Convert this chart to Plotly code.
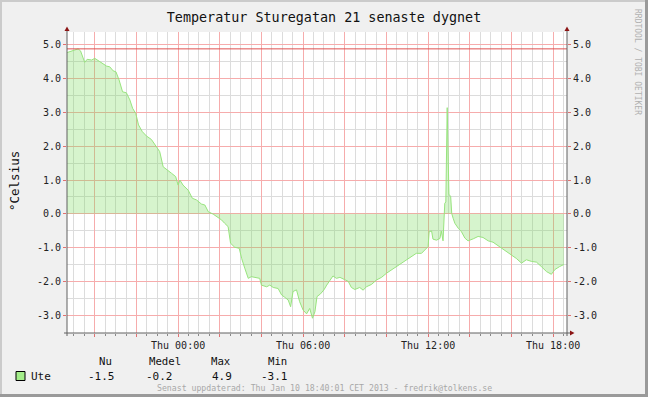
import plotly.graph_objects as go
import pandas as pd

# ---------------- data ----------------
times = [
    "2013-01-09 18:40", "2013-01-09 18:58", "2013-01-09 19:12", "2013-01-09 19:19",
    "2013-01-09 19:31", "2013-01-09 19:38", "2013-01-09 19:51", "2013-01-09 20:00",
    "2013-01-09 20:10", "2013-01-09 20:19", "2013-01-09 20:34", "2013-01-09 20:43",
    "2013-01-09 20:53", "2013-01-09 21:01", "2013-01-09 21:10", "2013-01-09 21:20",
    "2013-01-09 21:31", "2013-01-09 21:41", "2013-01-09 21:49", "2013-01-09 21:58",
    "2013-01-09 22:06", "2013-01-09 22:17", "2013-01-09 22:29", "2013-01-09 22:43",
    "2013-01-09 22:58", "2013-01-09 23:07", "2013-01-09 23:17", "2013-01-09 23:27",
    "2013-01-09 23:41", "2013-01-09 23:53", "2013-01-10 00:00", "2013-01-10 00:05",
    "2013-01-10 00:14", "2013-01-10 00:29", "2013-01-10 00:41", "2013-01-10 00:53",
    "2013-01-10 01:07", "2013-01-10 01:17", "2013-01-10 01:27", "2013-01-10 01:41",
    "2013-01-10 01:55", "2013-01-10 02:05", "2013-01-10 02:14", "2013-01-10 02:24",
    "2013-01-10 02:31", "2013-01-10 02:43", "2013-01-10 02:56", "2013-01-10 03:03",
    "2013-01-10 03:12", "2013-01-10 03:22", "2013-01-10 03:31", "2013-01-10 03:46",
    "2013-01-10 03:55", "2013-01-10 04:00", "2013-01-10 04:15", "2013-01-10 04:24",
    "2013-01-10 04:34", "2013-01-10 04:48", "2013-01-10 04:58", "2013-01-10 05:07",
    "2013-01-10 05:17", "2013-01-10 05:24", "2013-01-10 05:31", "2013-01-10 05:41",
    "2013-01-10 05:50", "2013-01-10 06:00", "2013-01-10 06:10", "2013-01-10 06:19",
    "2013-01-10 06:27", "2013-01-10 06:34", "2013-01-10 06:40", "2013-01-10 06:50",
    "2013-01-10 07:00", "2013-01-10 07:08", "2013-01-10 07:17", "2013-01-10 07:26",
    "2013-01-10 07:36", "2013-01-10 07:46", "2013-01-10 08:00", "2013-01-10 08:10",
    "2013-01-10 08:19", "2013-01-10 08:29", "2013-01-10 08:43", "2013-01-10 08:53",
    "2013-01-10 09:02", "2013-01-10 09:17", "2013-01-10 09:31", "2013-01-10 09:46",
    "2013-01-10 10:00", "2013-01-10 10:14", "2013-01-10 10:29", "2013-01-10 10:43",
    "2013-01-10 10:58", "2013-01-10 11:12", "2013-01-10 11:26", "2013-01-10 11:41",
    "2013-01-10 11:55", "2013-01-10 12:00", "2013-01-10 12:03", "2013-01-10 12:10",
    "2013-01-10 12:14", "2013-01-10 12:24", "2013-01-10 12:34", "2013-01-10 12:38",
    "2013-01-10 12:43", "2013-01-10 12:48", "2013-01-10 12:51", "2013-01-10 12:55",
    "2013-01-10 12:58", "2013-01-10 13:00", "2013-01-10 13:05", "2013-01-10 13:08",
    "2013-01-10 13:12", "2013-01-10 13:17", "2013-01-10 13:27", "2013-01-10 13:36",
    "2013-01-10 13:46", "2013-01-10 13:55", "2013-01-10 14:10", "2013-01-10 14:24",
    "2013-01-10 14:38", "2013-01-10 14:53", "2013-01-10 15:07", "2013-01-10 15:26",
    "2013-01-10 15:46", "2013-01-10 16:00", "2013-01-10 16:14", "2013-01-10 16:29",
    "2013-01-10 16:43", "2013-01-10 16:58", "2013-01-10 17:12", "2013-01-10 17:26",
    "2013-01-10 17:41", "2013-01-10 17:55", "2013-01-10 18:05", "2013-01-10 18:19",
    "2013-01-10 18:31",
]
ute = [
    4.77, 4.83, 4.88, 4.82, 4.48, 4.57, 4.55, 4.60,
    4.53, 4.45, 4.37, 4.35, 4.23, 4.20, 3.96, 3.61,
    3.58, 3.37, 3.12, 2.97, 2.63, 2.43, 2.30, 2.20,
    1.99, 1.84, 1.39, 1.30, 1.20, 1.10, 0.85, 1.00,
    0.85, 0.70, 0.46, 0.41, 0.29, 0.26, 0.06, -0.01,
    -0.10, -0.18, -0.28, -0.38, -0.87, -0.99, -1.02, -1.32,
    -1.61, -1.91, -1.86, -1.88, -1.91, -2.11, -2.16, -2.11,
    -2.18, -2.21, -2.40, -2.47, -2.55, -2.75, -2.30, -2.25,
    -2.60, -2.85, -2.96, -2.80, -3.09, -2.90, -2.45, -2.37,
    -2.25, -2.11, -1.96, -1.84, -1.91, -1.88, -1.95, -2.00,
    -2.18, -2.24, -2.18, -2.26, -2.16, -2.09, -1.96, -1.88,
    -1.76, -1.66, -1.58, -1.47, -1.37, -1.25, -1.17, -1.17,
    -1.02, -0.97, -0.53, -0.51, -0.75, -0.78, -0.73, -0.51,
    -0.80, 0.31, 0.35, 3.14, 1.54, 0.58, 0.51, 0.01,
    -0.13, -0.28, -0.43, -0.53, -0.72, -0.80, -0.74, -0.67,
    -0.70, -0.80, -0.84, -0.97, -1.12, -1.20, -1.32, -1.46,
    -1.36, -1.41, -1.43, -1.56, -1.71, -1.79, -1.65, -1.56,
    -1.50,
]
stat_names = ["Nu", "Medel", "Max", "Min"]
stat_values = [-1.5, -0.2, 4.9, -3.1]
series_name = "Ute"

y_ticks = [-3, -2, -1, 0, 1, 2, 3, 4, 5]
x_label_times = ["2013-01-10 00:00", "2013-01-10 06:00", "2013-01-10 12:00", "2013-01-10 18:00"]
x_range = ["2013-01-09 18:40", "2013-01-10 18:40"]
y_range = [-3.527, 5.379]

title_text = "Temperatur Sturegatan 21 senaste dygnet"
y_title = "°Celsius"
footer_text = "Senast uppdaterad: Thu Jan 10 18:40:01 CET 2013 - fredrik@tolkens.se"
watermark = "RRDTOOL / TOBI OETIKER"

# ---------------- layout geometry ----------------
W, H = 648, 397
L, R, T, B = 67, 81, 32, 64
PW, PH = W - L - R, H - T - B
MONO = "DejaVu Sans Mono"


def px(xp):
    return (xp - L) / PW


def py(yp):
    return (H - B - yp) / PH


# major grid every 2 h, labels every 6 h
major = pd.date_range("2013-01-09 20:00", "2013-01-10 18:00", freq="2h")
label_set = set(pd.to_datetime(x_label_times))
tickvals_x = [t.strftime("%Y-%m-%d %H:%M") for t in major]
ticktext_x = [t.strftime("Thu %H:%M") if t in label_set else "" for t in major]
ticktext_y = [f"{v:.1f}" for v in y_ticks]

fig = go.Figure()
fig.add_trace(go.Scatter(
    x=times, y=ute, mode="lines", fill="tozeroy",
    fillcolor="rgba(120,220,90,0.30)",
    line=dict(color="#98e47e", width=1),
    hoverinfo="skip", showlegend=False,
))
fig.add_trace(go.Scatter(
    x=times, y=ute, yaxis="y2", mode="lines",
    line=dict(color="rgba(0,0,0,0)", width=0),
    hoverinfo="skip", showlegend=False,
))

red_grid = "#f6acac"
gray_grid = "#dcdcdc"
tickfont = dict(family=MONO, size=10, color="#222222")

fig.update_layout(
    width=W, height=H,
    margin=dict(l=L, r=R, t=T, b=B),
    paper_bgcolor="#f0f0f0", plot_bgcolor="#ffffff",
    showlegend=False,
    title=dict(text=title_text, x=0.5, xref="container", xanchor="center",
               y=1 - 17 / H, yref="container", yanchor="middle",
               font=dict(family=MONO, size=13.4, color="#111111")),
    xaxis=dict(
        type="date", range=x_range, tickmode="array",
        tickvals=tickvals_x, ticktext=ticktext_x,
        showgrid=True, gridcolor=red_grid, gridwidth=1,
        ticks="outside", ticklen=3, tickcolor="#e07070",
        tickfont=tickfont, showline=False, zeroline=False,
        minor=dict(dtick=1800000, tick0="2013-01-09 18:30", showgrid=True,
                   gridcolor=gray_grid, ticks="outside", ticklen=2,
                   tickcolor="#888888"),
        fixedrange=True,
    ),
    yaxis=dict(
        range=y_range, tickmode="array", tickvals=y_ticks, ticktext=ticktext_y,
        showgrid=True, gridcolor=red_grid, zeroline=False,
        ticks="outside", ticklen=3, tickcolor="#e07070",
        tickfont=tickfont, showline=False,
        minor=dict(dtick=0.5, tick0=0, showgrid=True, gridcolor=gray_grid),
        fixedrange=True,
    ),
    yaxis2=dict(
        range=y_range, overlaying="y", side="right", tickmode="array",
        tickvals=y_ticks, ticktext=ticktext_y, showgrid=False, zeroline=False,
        ticks="outside", ticklen=3, tickcolor="#e07070",
        tickfont=tickfont, showline=False, fixedrange=True,
    ),
)

shapes = []
axis_col = "#606060"
arrow_col = "#8b1414"
# max HRULE
shapes.append(dict(type="line", xref="paper", yref="y", x0=0, x1=1,
                   y0=max(ute), y1=max(ute), line=dict(color="#e05050", width=1)))
# axes lines
for xp in (L, L + PW):
    shapes.append(dict(type="line", xref="paper", yref="paper",
                       x0=px(xp), x1=px(xp), y0=py(H - B + 3), y1=py(29),
                       line=dict(color=axis_col, width=1)))
    shapes.append(dict(type="path", xref="paper", yref="paper",
                       path=f"M {px(xp-2.5)} {py(31)} L {px(xp+2.5)} {py(31)} L {px(xp)} {py(26.5)} Z",
                       fillcolor=arrow_col, line=dict(color=arrow_col, width=0)))
shapes.append(dict(type="line", xref="paper", yref="paper",
                   x0=px(L - 3), x1=px(571), y0=py(H - B), y1=py(H - B),
                   line=dict(color=axis_col, width=1)))
shapes.append(dict(type="path", xref="paper", yref="paper",
                   path=f"M {px(570)} {py(H-B-2.5)} L {px(570)} {py(H-B+2.5)} L {px(574.5)} {py(H-B)} Z",
                   fillcolor=arrow_col, line=dict(color=arrow_col, width=0)))
# 3D frame
shapes.append(dict(type="rect", xref="paper", yref="paper",
                   x0=px(0), x1=px(2), y0=py(0), y1=py(H), fillcolor="#cbcbcb", line=dict(width=0)))
shapes.append(dict(type="rect", xref="paper", yref="paper",
                   x0=px(0), x1=px(W), y0=py(0), y1=py(2), fillcolor="#cbcbcb", line=dict(width=0)))
shapes.append(dict(type="rect", xref="paper", yref="paper",
                   x0=px(W - 3), x1=px(W), y0=py(0), y1=py(H), fillcolor="#9a9a9a", line=dict(width=0)))
shapes.append(dict(type="rect", xref="paper", yref="paper",
                   x0=px(0), x1=px(W), y0=py(H - 3), y1=py(H), fillcolor="#9a9a9a", line=dict(width=0)))
# legend colour box
shapes.append(dict(type="rect", xref="paper", yref="paper",
                   x0=px(16), x1=px(25), y0=py(380.5), y1=py(371.5),
                   fillcolor="#a4ee8a", line=dict(color="#000000", width=1)))
fig.update_layout(shapes=shapes)

ann = []
ann.append(dict(text=y_title, xref="paper", yref="paper", x=px(14), y=py(181),
                textangle=-90, showarrow=False, xanchor="center", yanchor="middle",
                font=dict(family=MONO, size=12.5, color="#111111")))
ann.append(dict(text=watermark, xref="paper", yref="paper", x=px(638), y=py(62),
                textangle=90, showarrow=False, xanchor="center", yanchor="middle",
                font=dict(family=MONO, size=8, color="#b0b0b0")))
header_right = [113, 182, 232, 288]
value_right = [116, 174, 233, 289]
for name, hr in zip(stat_names, header_right):
    ann.append(dict(text=name, xref="paper", yref="paper", x=px(hr + 1), y=py(361),
                    showarrow=False, xanchor="right", yanchor="middle",
                    font=dict(family=MONO, size=10.7, color="#111111")))
for v, vr in zip(stat_values, value_right):
    ann.append(dict(text=f"{v:.1f}", xref="paper", yref="paper", x=px(vr + 1), y=py(376),
                    showarrow=False, xanchor="right", yanchor="middle",
                    font=dict(family=MONO, size=11, color="#111111")))
ann.append(dict(text=series_name, xref="paper", yref="paper", x=px(29), y=py(376),
                showarrow=False, xanchor="left", yanchor="middle",
                font=dict(family=MONO, size=11, color="#111111")))
ann.append(dict(text=footer_text, xref="paper", yref="paper", x=px(324.5), y=py(388),
                showarrow=False, xanchor="center", yanchor="middle",
                font=dict(family=MONO, size=8.2, color="#a8a8a8")))
fig.update_layout(annotations=ann)

fig.write_html(
    "out.html",
    config={"displayModeBar": False, "staticPlot": True},
    post_script="document.body.style.margin='0';document.body.style.overflow='hidden';",
)
